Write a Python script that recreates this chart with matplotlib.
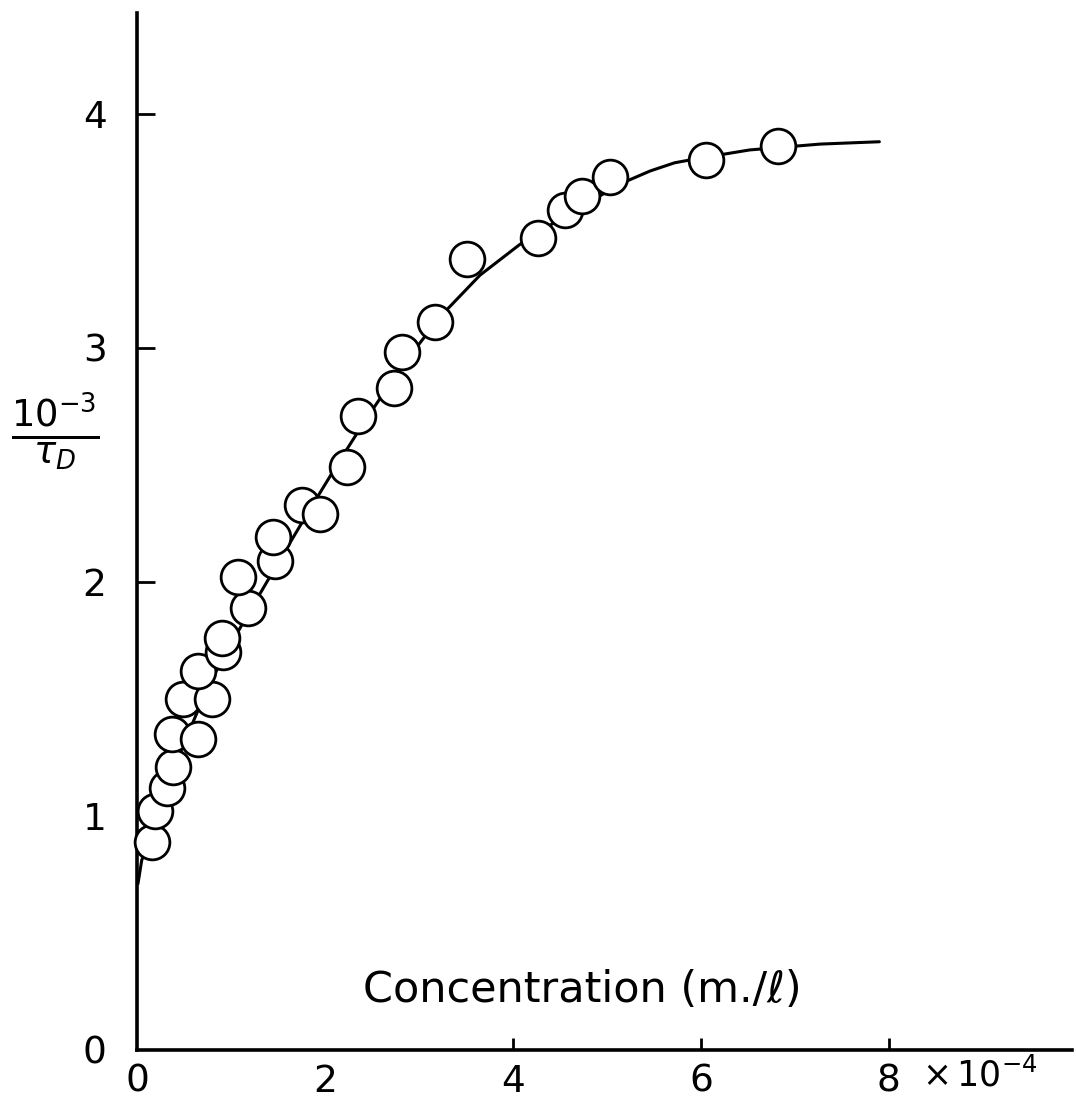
import matplotlib
matplotlib.use("Agg")
import matplotlib.pyplot as plt

# ---- data ----
conc_x = [0.16, 0.19, 0.32, 0.38, 0.37, 0.65, 0.49, 0.80, 0.65, 0.91, 0.90,
          1.18, 1.07, 1.47, 1.45, 1.76, 1.95, 2.23, 2.35, 2.73, 2.82, 3.17,
          3.51, 4.27, 4.55, 4.74, 5.03, 6.06, 6.82]
inv_tau = [0.89, 1.02, 1.12, 1.21, 1.35, 1.33, 1.50, 1.50, 1.62, 1.70, 1.76,
           1.89, 2.02, 2.09, 2.19, 2.33, 2.29, 2.49, 2.71, 2.83, 2.98, 3.11,
           3.38, 3.47, 3.59, 3.65, 3.73, 3.80, 3.86]

curve_x = [0.01, 0.05, 0.14, 0.24, 0.37, 0.51, 0.67, 0.88, 1.15, 1.47, 1.84,
           2.16, 2.43, 2.80, 3.22, 3.65, 4.07, 4.50, 4.93, 5.20, 5.46, 5.72,
           5.99, 6.52, 7.27, 7.90]
curve_y = [0.71, 0.81, 0.91, 1.03, 1.18, 1.32, 1.47, 1.65, 1.84, 2.06, 2.31,
           2.52, 2.69, 2.91, 3.13, 3.31, 3.44, 3.55, 3.65, 3.71, 3.755, 3.79,
           3.81, 3.845, 3.87, 3.88]

x_tick_vals = [0, 2, 4, 6, 8]
x_tick_labels = ["0", "2", "4", "6", "8"]
x_tick_marks = [4, 6, 8]
y_tick_vals = [0, 1, 2, 3, 4]
y_tick_labels = ["0", "1", "2", "3", "4"]
y_tick_marks = [2, 3, 4]

W, H = 1076, 1099
fig = plt.figure(figsize=(W / 100, H / 100), dpi=100)
fig.patch.set_facecolor("white")
ax = fig.add_axes([137 / W, 49 / H, 935 / W, 1037 / H])
ax.set_xlim(0, 9.95)
ax.set_ylim(0, 4.43)

ax.plot(curve_x, curve_y, color="black", lw=2.2, solid_capstyle="round",
        solid_joinstyle="round", zorder=2, clip_on=False)
ax.plot(conc_x, inv_tau, linestyle="none", marker="o", ms=25,
        mfc="white", mec="black", mew=2.0, zorder=3, clip_on=False)

for s in ["top", "right"]:
    ax.spines[s].set_visible(False)
for s in ["left", "bottom"]:
    ax.spines[s].set_linewidth(2.6)
    ax.spines[s].set_color("black")

ax.xaxis.remove_overlapping_locs = False
ax.yaxis.remove_overlapping_locs = False
ax.set_xticks(x_tick_vals)
ax.set_xticklabels(x_tick_labels, fontsize=27)
ax.set_yticks(y_tick_vals)
ax.set_yticklabels(y_tick_labels, fontsize=27)
ax.tick_params(axis="both", which="major", length=0)
ax.tick_params(axis="x", which="major", pad=10)
ax.tick_params(axis="y", which="major", pad=22)
ax.set_xticks(x_tick_marks, minor=True)
ax.set_yticks(y_tick_marks, minor=True)
ax.tick_params(axis="x", which="minor", direction="in", length=9, width=2)
ax.tick_params(axis="y", which="minor", direction="in", length=13, width=2)

ax.text(8.35, -0.11, r"$\times\,10^{-4}$", fontsize=25, ha="left", va="center",
        transform=ax.transData, clip_on=False)

ax.text(0.476, 0.058, "Concentration (m./ℓ)", fontsize=31, ha="center",
        va="center", transform=ax.transAxes)

fig.text(55 / W, 1 - 432 / H, r"$\frac{10^{-3}}{\tau_D}$", fontsize=38,
         ha="center", va="center")

fig.savefig("out.png", dpi=100, facecolor="white")
